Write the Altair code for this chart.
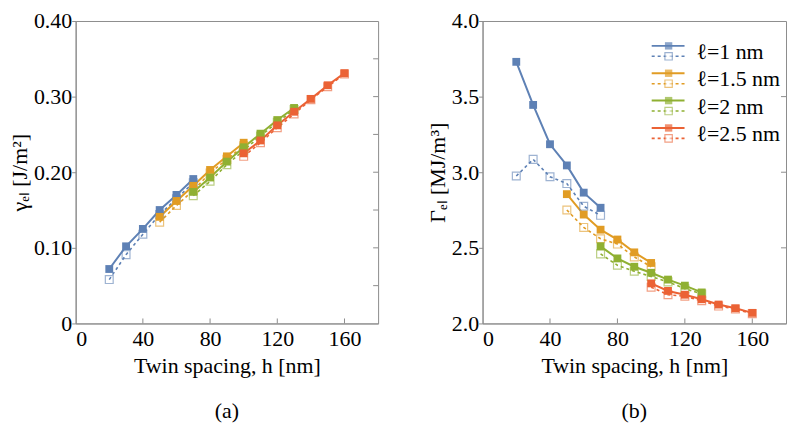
import altair as alt
import pandas as pd

# ---------------- data ----------------
labels = ["ℓ=1 nm", "ℓ=1.5 nm", "ℓ=2 nm", "ℓ=2.5 nm"]
colors = ["#5E81B5", "#E19C24", "#8FB032", "#EB6235"]

h_l1 = [20, 30, 40, 50, 60, 70]
h_l15 = [50, 60, 70, 80, 90, 100]
h_l2 = [70, 80, 90, 100, 110, 120, 130]
h_l25 = [100, 110, 120, 130, 140, 150, 160]

# panel (a): gamma_el [J/m^2]
gam_solid_l1 = [0.072, 0.102, 0.125, 0.150, 0.170, 0.191]
gam_dash_l1 = [0.058, 0.091, 0.118, 0.144, 0.165, 0.186]
gam_solid_l15 = [0.141, 0.162, 0.182, 0.203, 0.221, 0.239]
gam_dash_l15 = [0.134, 0.156, 0.176, 0.199, 0.217, 0.235]
gam_solid_l2 = [0.174, 0.193, 0.214, 0.233, 0.251, 0.269, 0.285]
gam_dash_l2 = [0.169, 0.188, 0.210, 0.229, 0.248, 0.266, 0.283]
gam_solid_l25 = [0.225, 0.242, 0.262, 0.280, 0.297, 0.315, 0.331]
gam_dash_l25 = [0.221, 0.239, 0.259, 0.277, 0.296, 0.313, 0.330]

# panel (b): Gamma_el [MJ/m^3]
Gam_solid_l1 = [3.73, 3.445, 3.185, 3.045, 2.865, 2.765]
Gam_dash_l1 = [2.975, 3.085, 2.97, 2.925, 2.775, 2.715]
Gam_solid_l15 = [2.855, 2.72, 2.62, 2.555, 2.47, 2.40]
Gam_dash_l15 = [2.75, 2.635, 2.56, 2.525, 2.44, 2.375]
Gam_solid_l2 = [2.51, 2.43, 2.375, 2.335, 2.29, 2.25, 2.205]
Gam_dash_l2 = [2.46, 2.385, 2.345, 2.31, 2.275, 2.23, 2.195]
Gam_solid_l25 = [2.265, 2.215, 2.19, 2.16, 2.125, 2.10, 2.07]
Gam_dash_l25 = [2.24, 2.19, 2.18, 2.15, 2.115, 2.095, 2.065]

x_ticks = [0, 40, 80, 120, 160]
ya_ticks = [0, 0.10, 0.20, 0.30, 0.40]
ya_minor = [0.05, 0.10, 0.15, 0.20, 0.25, 0.30, 0.35]
yb_ticks = [2.0, 2.5, 3.0, 3.5, 4.0]
yb_minor = [2.5, 3.0, 3.5]

hs = [h_l1, h_l15, h_l2, h_l25]
gam_s = [gam_solid_l1, gam_solid_l15, gam_solid_l2, gam_solid_l25]
gam_d = [gam_dash_l1, gam_dash_l15, gam_dash_l2, gam_dash_l25]
Gam_s = [Gam_solid_l1, Gam_solid_l15, Gam_solid_l2, Gam_solid_l25]
Gam_d = [Gam_dash_l1, Gam_dash_l15, Gam_dash_l2, Gam_dash_l25]


def make_df(solid, dash):
    rows = []
    for lab, h, s, d in zip(labels, hs, solid, dash):
        for hv, v in zip(h, s):
            rows.append({"h": hv, "v": v, "series": lab, "kind": "solid"})
        for hv, v in zip(h, d):
            rows.append({"h": hv, "v": v, "series": lab, "kind": "dash"})
    return pd.DataFrame(rows)


df_a = make_df(gam_s, gam_d)
df_b = make_df(Gam_s, Gam_d)

FONT = "Liberation Serif"
FS = 22
H = 304
GRAY = "#8c8c8c"

color = alt.Color("series:N", scale=alt.Scale(domain=labels, range=colors), legend=None)


def panel(df, ydom, yticks, yminor, ytitle, yfmt, caption, width, legend=False):
    xs = alt.Scale(domain=[0, 180], nice=False, zero=False)
    ys = alt.Scale(domain=ydom, nice=False, zero=False)
    x = alt.X("h:Q", scale=xs, axis=alt.Axis(values=x_ticks, ticks=False, labelPadding=5,
                                              labelFont=FONT, titleFont=FONT, labelFontSize=FS,
                                              titleFontSize=FS, title="Twin spacing, h [nm]",
                                              titlePadding=6))
    y = alt.Y("v:Q", scale=ys, axis=alt.Axis(values=yticks, tickSize=4, labelPadding=0,
                                              labelFont=FONT, titleFont=FONT, labelFontSize=FS,
                                              titleFontSize=FS, labelExpr=yfmt, title=ytitle,
                                              titlePadding=2))
    base = alt.Chart(df)
    solid = base.transform_filter(alt.datum.kind == "solid")
    dash = base.transform_filter(alt.datum.kind == "dash")
    layers = [
        dash.mark_line(strokeWidth=1.6, strokeDash=[3, 3]).encode(x=x, y=y, color=color, detail="series:N"),
        solid.mark_line(strokeWidth=2).encode(x=x, y=y, color=color, detail="series:N"),
        dash.mark_square(filled=False, size=62, strokeWidth=1.2, opacity=0.6).encode(x=x, y=y, color=color),
        solid.mark_square(filled=True, size=62, opacity=1).encode(x=x, y=y, color=color),
    ]
    # inward frame ticks
    bt = pd.DataFrame({"t": x_ticks[1:]})
    layers.append(alt.Chart(bt).mark_rule(color=GRAY, strokeWidth=1).encode(
        x=alt.X("t:Q", scale=xs), y=alt.value(H), y2=alt.value(H - 5)))
    rt = pd.DataFrame({"t": yminor})
    layers.append(alt.Chart(rt).mark_rule(color=GRAY, strokeWidth=1).encode(
        y=alt.Y("t:Q", scale=ys), x=alt.value(width), x2=alt.value(width - 5)))
    if legend:
        n = len(labels)
        lg = pd.DataFrame({"series": labels, "row": list(range(n))})
        lg_base = alt.Chart(lg).transform_calculate(
            ys_=25 + 27.5 * alt.datum.row, yd_=35.5 + 27.5 * alt.datum.row, yt_=31 + 27.5 * alt.datum.row)
        lx0, lx1, lxm = width - 135, width - 102, width - 118
        layers += [
            lg_base.mark_rule(strokeWidth=2).encode(x=alt.value(lx0), x2=alt.value(lx1),
                                                    y=alt.Y("ys_:Q", scale=None), color=color),
            lg_base.mark_rule(strokeWidth=1.6, strokeDash=[3, 3]).encode(
                x=alt.value(lx0), x2=alt.value(lx1), y=alt.Y("yd_:Q", scale=None), color=color),
            lg_base.mark_square(filled=True, size=55).encode(x=alt.value(lxm), y=alt.Y("ys_:Q", scale=None), color=color),
            lg_base.mark_square(filled=False, size=55, strokeWidth=1.2, opacity=0.6, fill="white", fillOpacity=1).encode(
                x=alt.value(lxm), y=alt.Y("yd_:Q", scale=None), color=color),
            lg_base.mark_text(align="left", baseline="middle", font=FONT, fontSize=FS, color="black").encode(
                x=alt.value(width - 90), y=alt.Y("yt_:Q", scale=None), text="series:N"),
        ]
    return alt.layer(*layers).properties(
        width=width, height=H,
        title=alt.TitleParams(caption, orient="bottom", anchor="middle", font=FONT, fontSize=FS,
                              fontWeight="normal", offset=25),
    )


left = panel(df_a, [0, 0.4], ya_ticks, ya_minor, "γₑₗ [J/m²]",
             "datum.value == 0 ? '0' : format(datum.value, '.2f')", "(a)", 304)
right = panel(df_b, [2.0, 4.0], yb_ticks, yb_minor, "Γₑₗ [MJ/m³]",
              "format(datum.value, '.1f')", "(b)", 305, legend=True)

chart = alt.hconcat(left, right, spacing=47).properties(
    padding={"left": 0, "top": 0, "right": 0, "bottom": 0}
).configure_view(stroke=GRAY, strokeWidth=1).configure_axis(
    grid=False, domainColor=GRAY, tickColor=GRAY, labelFont=FONT, titleFont=FONT,
    labelFontSize=FS, titleFontSize=FS, labelColor="black", titleColor="black",
    titleFontWeight="normal",
).configure_concat(spacing=47)

chart.save("out.html", embed_options={"renderer": "svg", "actions": False})
